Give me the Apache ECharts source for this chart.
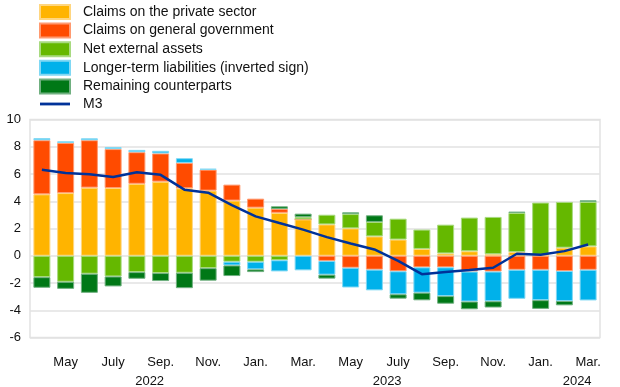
<!DOCTYPE html>
<html>
<head>
<meta charset="utf-8">
<script src="https://cdn.jsdelivr.net/npm/echarts@6/dist/echarts.min.js"></script>
<style>
html,body{margin:0;padding:0;background:#fff;}
#c{width:620px;height:387px;}
</style>
</head>
<body>
<div id="c"></div>
<script>
var categories = ['2022-04','2022-05','2022-06','2022-07','2022-08','2022-09','2022-10','2022-11','2022-12','2023-01','2023-02','2023-03','2023-04','2023-05','2023-06','2023-07','2023-08','2023-09','2023-10','2023-11','2023-12','2024-01','2024-02','2024-03'];
var tickLabels = ['', 'May', '', 'July', '', 'Sep.', '', 'Nov.', '', 'Jan.', '', 'Mar.', '', 'May', '', 'July', '', 'Sep.', '', 'Nov.', '', 'Jan.', '', 'Mar.'];
var years = {5: '2022', 15: '2023', 23: '2024'};

var privateSector = [4.51, 4.60, 5.00, 4.97, 5.28, 5.44, 4.95, 4.78, 4.05, 3.53, 3.15, 2.67, 2.30, 2.01, 1.42, 1.19, 0.50, 0.17, 0.33, 0.11, 0.27, 0.06, 0.59, 0.69];
var generalGov = [3.97, 3.68, 3.48, 2.86, 2.32, 2.07, 1.86, 1.54, 1.17, 0.66, 0.28, 0.00, -0.38, -0.88, -1.02, -1.14, -0.85, -0.85, -1.16, -1.16, -1.03, -1.03, -1.12, -1.03];
var netExternal = [-1.57, -1.91, -1.32, -1.52, -1.20, -1.27, -1.25, -0.91, -0.44, -0.44, -0.33, 0.17, 0.71, 1.05, 1.06, 1.53, 1.42, 2.11, 2.47, 2.74, 2.87, 3.84, 3.36, 3.26];
var longerTerm = [0.15, 0.12, 0.14, 0.14, 0.17, 0.19, 0.35, 0.06, -0.27, -0.56, -0.82, -1.07, -1.01, -1.45, -1.52, -1.69, -1.86, -2.11, -2.20, -2.18, -2.13, -2.23, -2.20, -2.25];
var remaining = [-0.78, -0.52, -1.40, -0.73, -0.49, -0.59, -1.13, -0.92, -0.78, -0.20, 0.20, 0.25, -0.29, 0.13, 0.49, -0.32, -0.56, -0.56, -0.57, -0.46, 0.10, -0.64, -0.32, 0.12];
var m3 = [6.32, 6.08, 5.98, 5.78, 6.13, 5.94, 4.85, 4.63, 3.72, 2.89, 2.40, 1.92, 1.37, 0.90, 0.46, -0.37, -1.35, -1.20, -1.05, -0.88, 0.15, 0.07, 0.34, 0.83];
var yTicks = {min: -6, max: 10, interval: 2};

var chart = echarts.init(document.getElementById('c'), null, {renderer: 'canvas'});

function barSeries(name, data, color, border) {
  return {
    name: name, type: 'bar', stack: 'total', data: data,
    barWidth: 17,
    itemStyle: {color: color, borderColor: border, borderWidth: 1},
    emphasis: {disabled: true},
    z: 2
  };
}

var lineIcon = 'path://M0,0 M0,14 M0,5.6 L30,5.6 L30,8.4 L0,8.4 Z';

var option = {
  animation: false,
  backgroundColor: '#ffffff',
  textStyle: {fontFamily: 'Liberation Sans, Arial, sans-serif'},
  legend: {
    orient: 'vertical', left: 39, top: 4, padding: 0,
    itemWidth: 30, itemHeight: 14, itemGap: 2.6,
    icon: 'rect',
    textStyle: {fontSize: 14, color: '#111', padding: [0, 0, 0, 8], fontFamily: 'Liberation Sans, Arial, sans-serif'},
    data: [
      {name: 'Claims on the private sector'},
      {name: 'Claims on general government'},
      {name: 'Net external assets'},
      {name: 'Longer-term liabilities (inverted sign)'},
      {name: 'Remaining counterparts'},
      {name: 'M3', icon: lineIcon}
    ]
  },
  grid: {left: 30, right: 20, top: 119.5, bottom: 49.5, show: true, borderColor: '#e2e2e2', borderWidth: 1.5, outerBoundsMode: 'none', containLabel: false},
  xAxis: {
    type: 'category', data: categories,
    axisLine: {show: false}, axisTick: {show: false},
    splitLine: {show: false},
    axisLabel: {
      interval: 0, margin: 15, fontSize: 13, color: '#111', lineHeight: 19,
      formatter: function (v, i) {
        var t = tickLabels[i];
        if (!t) return '';
        if (years[i]) return t + '\n{y|' + years[i] + '}';
        return t;
      },
      rich: {y: {fontSize: 13, color: '#111', padding: [0, 22, 0, 0], lineHeight: 19}}
    }
  },
  yAxis: {
    type: 'value', min: yTicks.min, max: yTicks.max, interval: yTicks.interval,
    axisLine: {show: false}, axisTick: {show: false},
    axisLabel: {fontSize: 13, color: '#111', margin: 9},
    splitLine: {lineStyle: {color: '#e2e2e2', width: 1.5}}
  },
  series: [
    barSeries('Claims on the private sector', privateSector, '#FFB400', '#FFD680'),
    barSeries('Claims on general government', generalGov, '#FF4B00', '#FF9A70'),
    barSeries('Net external assets', netExternal, '#65B800', '#A8DA80'),
    barSeries('Longer-term liabilities (inverted sign)', longerTerm, '#00B1EA', '#80D8F4'),
    barSeries('Remaining counterparts', remaining, '#007816', '#70B080'),
    {
      name: 'M3', type: 'line', data: m3, symbol: 'none', showSymbol: false,
      lineStyle: {color: '#003299', width: 2.5}, itemStyle: {color: '#003299'},
      z: 5, emphasis: {disabled: true}
    }
  ]
};
chart.setOption(option);
</script>
</body>
</html>
